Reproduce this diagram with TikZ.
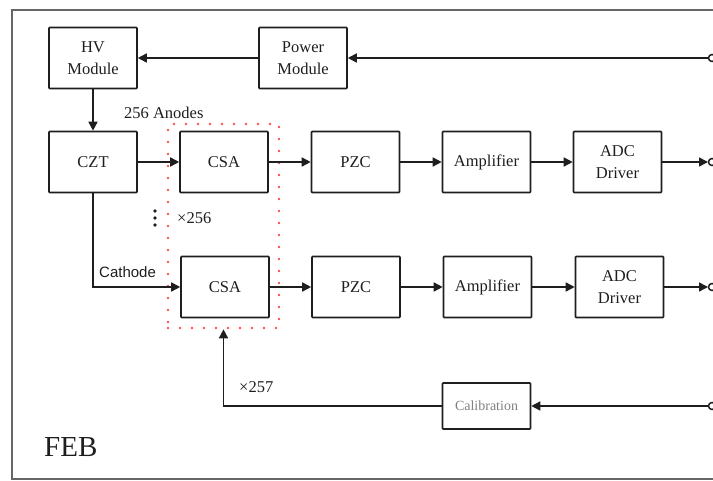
\documentclass[tikz,border=0pt]{standalone}
\usepackage{fontspec}
\setmainfont{Liberation Serif}
\newfontfamily\arialf{Liberation Sans}
\usetikzlibrary{arrows.meta}
\definecolor{dotred}{RGB}{250,80,80}
\definecolor{ink}{RGB}{30,30,30}
\begin{document}
\begin{tikzpicture}[x=1pt,y=-1pt,
 blk/.style={draw=ink, line width=1.6pt, minimum width=88pt, minimum height=61pt, inner sep=0pt, align=center, text=ink, font=\fontsize{16.5}{22}\selectfont, rounded corners=0.8pt},
 arr/.style={draw=ink, line width=1.6pt, -{Triangle[length=9pt,width=9pt]}},
 term/.style={draw=ink, line width=1.5pt, fill=white},
 lbl/.style={font=\fontsize{16.5}{20}\selectfont, inner sep=0pt, text=ink}
]
\useasboundingbox (0,0) rectangle (713,481);
\begin{scope}
\clip (0,0) rectangle (713,481);
\draw[black!60, line width=1.4pt] (12,10) rectangle (760,479);
\end{scope}

% blocks
\node[blk] (hv) at (93,58) {HV\\Module};
\node[blk] (pow) at (303,58) {Power\\Module};
\node[blk] (czt) at (93,162) {CZT};
\node[blk] (csa1) at (224,162) {CSA};
\node[blk] (pzc1) at (355.5,162) {PZC};
\node[blk] (amp1) at (486.5,162) {Amplifier};
\node[blk] (adc1) at (617.5,162) {ADC\\Driver};
\node[blk] (csa2) at (225,287) {CSA};
\node[blk] (pzc2) at (356,287) {PZC};
\node[blk] (amp2) at (487.5,287) {Amplifier};
\node[blk] (adc2) at (619.5,287) {ADC\\Driver};
\node[blk, minimum height=46pt, font=\fontsize{14}{16}\selectfont, text=black!50] (cal) at (486.5,406) {Calibration};

% group box
\node[draw=dotred, line width=2.6pt, dash pattern=on 0pt off 12pt, line cap=round, minimum width=111pt, minimum height=204pt, inner sep=0pt] (grp) at (223.5,226) {};

% terminals
\coordinate (pin) at (708,58);
\coordinate (o1) at (708,162);
\coordinate (o2) at (708,287);
\coordinate (cin) at (708,406);

% connectors
\draw[arr] (pin) -- (pow);
\draw[arr] (pow) -- (hv);
\draw[arr] (hv) -- (czt);
\draw[arr] (czt) -- (csa1);
\draw[arr] (csa1) -- (pzc1);
\draw[arr] (pzc1) -- (amp1);
\draw[arr] (amp1) -- (adc1);
\draw[arr] (adc1) -- (o1);
\draw[arr] (czt.south) |- (csa2.west);
\draw[arr] (csa2) -- (pzc2);
\draw[arr] (pzc2) -- (amp2);
\draw[arr] (amp2) -- (adc2);
\draw[arr] (adc2) -- (o2);
\draw[arr] (cin) -- (cal);
\draw[arr] (cal.west) -| (grp.south);

\begin{scope}
\clip (0,0) rectangle (713,481);
\foreach \t in {pin,o1,o2,cin} \draw[term] ([xshift=4pt]\t) circle (3.5pt);
\end{scope}

% labels
\node[lbl, anchor=west] (anodes) at (124,113) {256 Anodes};
\node[lbl, anchor=west] (x256) at (177,218) {×256};
\node[anchor=west, inner sep=0pt, text=ink, font=\arialf\fontsize{15}{18}\selectfont] (cath) at (99,272) {Cathode};
\node[lbl, anchor=west] (x257) at (239,387) {×257};
\node[anchor=west, inner sep=0pt, text=ink, font=\fontsize{29}{31}\selectfont] (feb) at (44,447) {FEB};

% vertical dots
\foreach \yy in {211,218,225} \fill[ink] (155,\yy) circle (1.9pt);
\end{tikzpicture}
\end{document}
